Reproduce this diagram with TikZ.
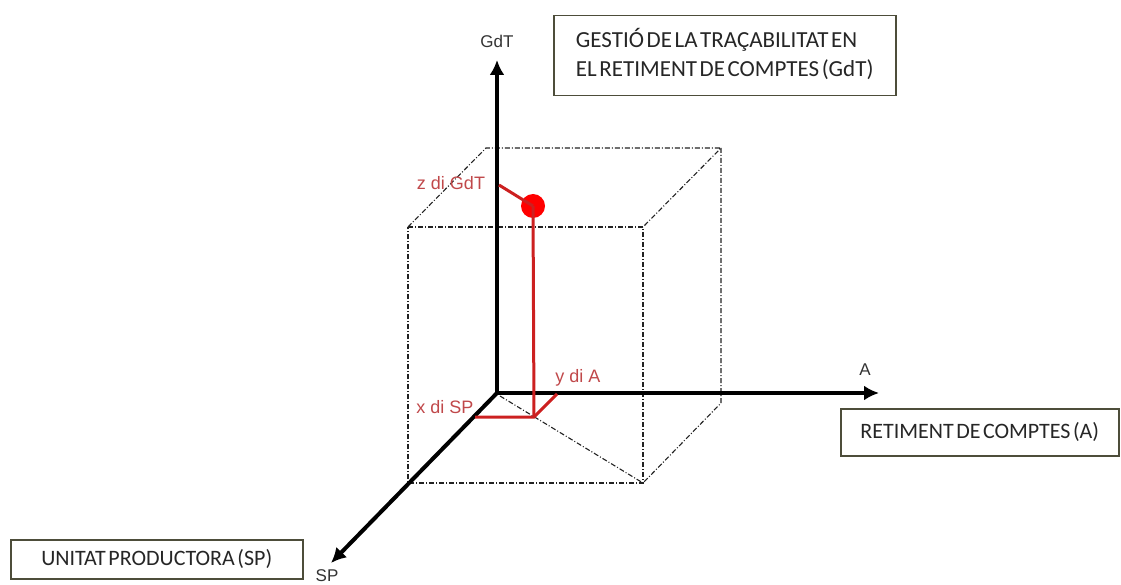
\documentclass[tikz,border=0pt]{standalone}
\usepackage{fontspec}
\setmainfont{Carlito}[WordSpace=0.5]
\newfontfamily\arialfont{Liberation Sans}
\usetikzlibrary{arrows.meta}
\definecolor{boxedge}{HTML}{4D4D3A}
\definecolor{axlabel}{HTML}{333333}
\definecolor{redtext}{HTML}{C0484A}
\definecolor{redline}{HTML}{CC2020}
\definecolor{cubeline}{HTML}{222222}
\tikzset{
  axis/.style={line width=4pt, -{Latex[length=15pt,width=15pt]}},
  cubeedge/.style={draw=cubeline, line width=1.1pt, dash pattern=on 5pt off 2pt on 1pt off 2pt},
  redleg/.style={draw=redline, line width=3pt},
  axlab/.style={font=\arialfont\fontsize{17}{20}\selectfont, text=axlabel, inner sep=0pt},
  redlab/.style={font=\arialfont\fontsize{18}{20}\selectfont, text=redtext, inner sep=0pt},
  titlebox/.style={draw=boxedge, line width=1.5pt, font=\fontsize{22}{29}\selectfont, text=black!85}
}
\begin{document}
\begin{tikzpicture}[x=1pt,y=-1pt]
\useasboundingbox (0,0) rectangle (1121,585);
% cube vertices
\coordinate (FTL) at (408,227);
\coordinate (FTR) at (643,227);
\coordinate (FBL) at (408,483);
\coordinate (FBR) at (643,483);
\coordinate (BTL) at (486,148);
\coordinate (BTR) at (721,148);
\coordinate (BBR) at (721,403);
\coordinate (BBL) at (500,396);
% dashed cube
\draw[cubeedge] (FTL) -- (FTR) -- (FBR) -- (FBL) -- cycle;
\draw[cubeedge] (FTL) -- (BTL) -- (BTR) -- (FTR);
\draw[cubeedge] (BTR) -- (BBR) -- (FBR);
\draw[cubeedge] (BBL) -- (FBR);
% axes
\coordinate (O) at (497,393);
\coordinate (Ztip) at (497,60);
\coordinate (Atip) at (879,393);
\coordinate (Stip) at (331,563);
\draw[axis] (O) -- (Ztip);
\draw[axis] (O) -- (Atip);
\draw[axis, shorten <=-2pt] (O) -- (Stip);
% red point
\coordinate (P) at (534,417);
\coordinate (Px) at (475,417);
\coordinate (Py) at (557,394);
\coordinate (Pz) at (499,185);
\node[circle, fill=red, minimum size=24pt, inner sep=0pt] (dot) at (533,206) {};
\draw[redleg] (Px) -- (P) -- (Py);
\draw[redleg] (P) -- (dot.center);
\draw[redleg] (Pz) -- (dot.center);
% labels
\node[axlab] (lz) at (497,41) {GdT};
\node[axlab] (la) at (865,370) {A};
\node[axlab, anchor=north] (ls) at (327,569) {SP};
\node[redlab] (zl) at (451,183) {z di GdT};
\node[redlab] (yl) at (578,378) {y di A};
\node[redlab] (xl) at (445,407) {x di SP};
% boxes
\node[titlebox, anchor=north west, minimum width=342pt, minimum height=80pt,
      font=\fontsize{23}{29}\selectfont] (gest) at (553,15)
      {\begin{tabular}{@{}l@{}}GESTIÓ DE LA TRAÇABILITAT EN\\EL RETIMENT DE COMPTES (GdT)\end{tabular}};
\node[titlebox, anchor=north west, minimum width=278pt, minimum height=47pt] (ret) at (840,408)
      {RETIMENT DE COMPTES (A)};
\node[titlebox, anchor=north west, minimum width=292pt, minimum height=39pt] (unit) at (10,539)
      {UNITAT PRODUCTORA (SP)};
\end{tikzpicture}
\end{document}
